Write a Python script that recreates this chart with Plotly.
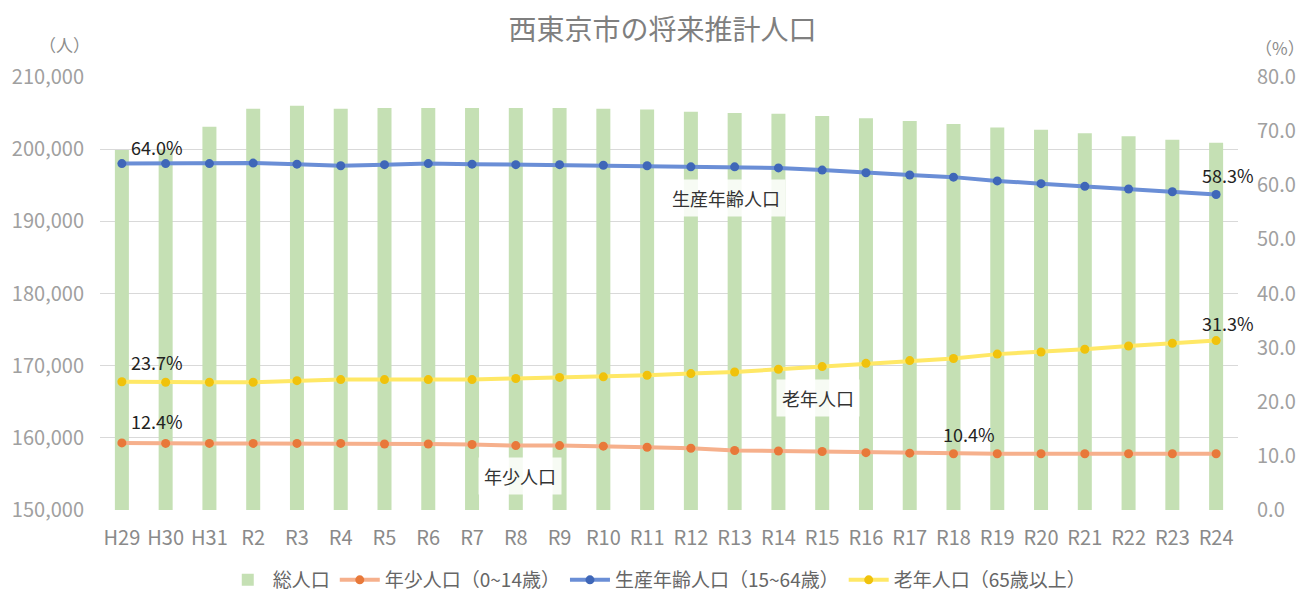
import plotly.graph_objects as go

categories = ["H29","H30","H31","R2","R3","R4","R5","R6","R7","R8","R9","R10","R11","R12",
              "R13","R14","R15","R16","R17","R18","R19","R20","R21","R22","R23","R24"]
total_pop = [199900,199900,203100,205600,206000,205600,205700,205700,205700,205700,205700,205600,
             205500,205200,205000,204900,204600,204300,203900,203500,203000,202700,202200,201800,201300,200900]
young_pct = [12.4,12.3,12.3,12.3,12.3,12.3,12.2,12.2,12.1,11.9,11.9,11.8,11.6,11.4,
             11.0,10.9,10.8,10.6,10.5,10.4,10.4,10.4,10.4,10.4,10.4,10.4]
working_pct = [64.0,64.0,64.0,64.1,63.9,63.6,63.8,64.0,63.9,63.8,63.8,63.7,63.6,63.4,
               63.4,63.2,62.8,62.3,61.9,61.5,60.8,60.3,59.8,59.3,58.8,58.3]
elderly_pct = [23.7,23.6,23.6,23.6,23.9,24.1,24.1,24.1,24.1,24.3,24.5,24.6,24.9,25.2,
               25.5,26.0,26.5,27.1,27.6,28.0,28.8,29.2,29.7,30.3,30.8,31.3]

FONT = "Noto Sans CJK JP, Noto Sans, sans-serif"
TICK_GRAY = "#A0A0A0"

fig = go.Figure()
fig.add_trace(go.Bar(x=categories, y=total_pop, name="総人口",
                     marker=dict(color="#C5E0B4", line=dict(width=0)), yaxis="y"))
fig.add_trace(go.Scatter(x=categories, y=young_pct, name="年少人口（0~14歳）", mode="lines+markers",
                         line=dict(color="#F6B08C", width=4),
                         marker=dict(color="#E8793A", size=9), yaxis="y2"))
fig.add_trace(go.Scatter(x=categories, y=working_pct, name="生産年齢人口（15~64歳）", mode="lines+markers",
                         line=dict(color="#6A8ED6", width=4),
                         marker=dict(color="#3F67B8", size=9), yaxis="y2"))
fig.add_trace(go.Scatter(x=categories, y=elderly_pct, name="老年人口（65歳以上）", mode="lines+markers",
                         line=dict(color="#FFE866", width=4),
                         marker=dict(color="#F0C20C", size=9), yaxis="y2"))

ann = []
def lab(i, series, xs, ys):
    ann.append(dict(x=categories[i], y=series[i], xref="x", yref="y2", text=f"{series[i]:.1f}%",
                    showarrow=False, xshift=xs, yshift=ys,
                    font=dict(family=FONT, size=18, color="#222222")))

lab(0, working_pct, 35, 17)
lab(25, working_pct, 12, 19)
lab(0, elderly_pct, 35, 20)
lab(25, elderly_pct, 12, 18)
lab(0, young_pct, 35, 22)
lab(19, young_pct, 15, 20)

def name_lab(x, y, text):
    ann.append(dict(x=x, y=y, xref="x", yref="y2", text=text, showarrow=False,
                    bgcolor="rgba(255,255,255,0.85)", borderpad=5,
                    font=dict(family=FONT, size=18, color="#333333")))

name_lab(13.8, 57.6, "生産年齢人口")
name_lab(15.9, 20.7, "老年人口")
name_lab(9.1, 6.3, "年少人口")

ann.append(dict(xref="paper", yref="paper", x=-0.0308, y=1.074, xanchor="center", yanchor="middle",
                text="（人）", showarrow=False, font=dict(family=FONT, size=17, color="#8C8C8C")))
ann.append(dict(xref="paper", yref="paper", x=1.0369, y=1.067, xanchor="center", yanchor="middle",
                text="（%）", showarrow=False, font=dict(family=FONT, size=17, color="#8C8C8C")))

fig.update_layout(
    width=1309, height=595,
    margin=dict(l=92, r=79, t=69, b=93, autoexpand=False),
    paper_bgcolor="white", plot_bgcolor="white",
    title=dict(text="西東京市の将来推計人口", x=0.5, xanchor="center", y=0.962, yanchor="middle",
               font=dict(family=FONT, size=28, color="#7F7F7F")),
    bargap=0.68,
    showlegend=True,
    legend=dict(orientation="h", xref="container", yref="container", x=0.496, xanchor="center",
                y=0.0387, yanchor="middle",
                font=dict(family=FONT, size=19, color="#666666"), itemwidth=40),
    xaxis=dict(type="category", range=[-0.5, 25.5], showgrid=False, zeroline=False, showline=False,
               automargin=False, tickfont=dict(family=FONT, size=20, color="#8A8A8A"), ticks="",
               ticklabelstandoff=14),
    yaxis=dict(range=[150000, 210000], dtick=10000, tickformat=",", showgrid=True, automargin=False,
               gridcolor="#D9D9D9", gridwidth=1, zeroline=False, showline=False,
               tickfont=dict(family=FONT, size=20, color=TICK_GRAY), ticks="",
               ticklabelstandoff=15),
    yaxis2=dict(range=[0, 80], dtick=10, tickformat=".1f", overlaying="y", side="right",
                showgrid=False, zeroline=False, showline=False, automargin=False,
                tickfont=dict(family=FONT, size=20, color=TICK_GRAY), ticks="",
                ticklabelstandoff=18),
    annotations=ann,
)

fig.write_html("out.html")
